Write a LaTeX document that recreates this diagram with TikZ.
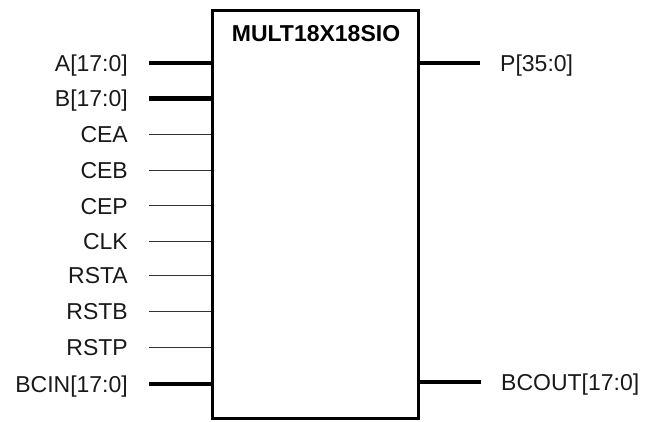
\documentclass[tikz,border=0pt]{standalone}
\usepackage{fontspec}
\setmainfont{Liberation Sans}
\begin{document}
\begin{tikzpicture}[x=1pt,y=-1pt,
  lbl/.style={font=\fontsize{23}{27}\selectfont, text=black!90, text height=16.5pt, text depth=0pt, inner ysep=0pt},
  lpin/.style={lbl, anchor=east, inner xsep=21pt},
  rpin/.style={lbl, anchor=west, inner xsep=20pt},
  bus/.style={line width=4.5pt, black},
  sig/.style={line width=1pt, black!80},
  blkstyle/.style={draw, line width=3pt, minimum width=206pt, minimum height=408.5pt, inner sep=0pt}]
\useasboundingbox (0,0) rectangle (645,421);
\node[blkstyle] (blk) at (315.4,214.7) {};
\node[font=\fontsize{23}{27}\selectfont\bfseries, text height=16.5pt, text depth=0pt, inner sep=0pt] (title) at (316,33.5) {MULT18X18SIO};
\foreach \n/\t/\y/\w in {A/A[17:0]/63/bus, B/B[17:0]/98.7/bus, CEA/CEA/134.4/sig, CEB/CEB/170.1/sig, CEP/CEP/205.8/sig, CLK/CLK/241.5/sig, RSTA/RSTA/275.5/sig, RSTB/RSTB/311/sig, RSTP/RSTP/347.5/sig, BCIN/BCIN[17:0]/384/bus}{
  \node[lpin] (l\n) at (149,\y) {\t};
  \draw[\w] (l\n.east) -- (blk.west |- l\n.east);
}
\node[rpin] (rP) at (480,63) {P[35:0]};
\draw[bus] (blk.east |- rP.west) -- (rP.west);
\node[rpin] (rBCOUT) at (481,382) {BCOUT[17:0]};
\draw[bus] (blk.east |- rBCOUT.west) -- (rBCOUT.west);
\end{tikzpicture}
\end{document}
